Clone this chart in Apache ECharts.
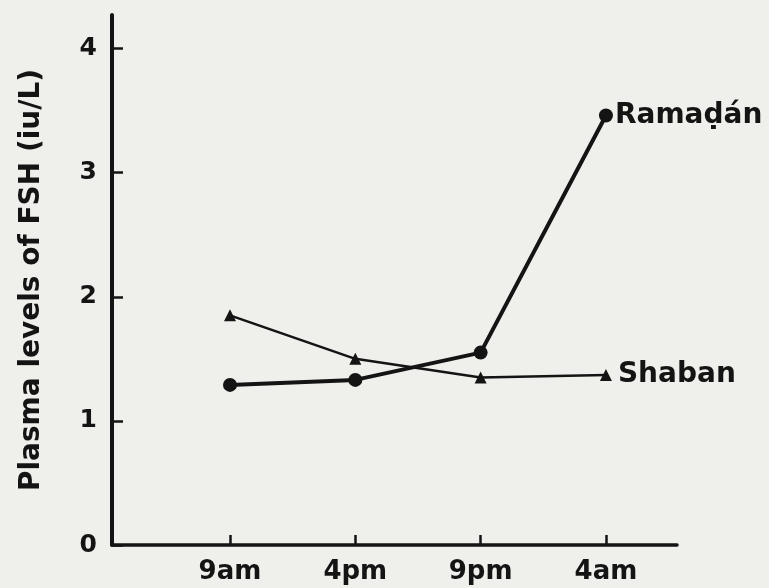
<!DOCTYPE html>
<html>
<head>
<meta charset="utf-8">
<script src="https://cdn.jsdelivr.net/npm/echarts@6/dist/echarts.min.js"></script>
<style>
html,body{margin:0;padding:0;background:#efefec;}
#c{width:769px;height:588px;}
</style>
</head>
<body>
<div id="c"></div>
<script>
// Data
var categories = ['9am', '4pm', '9pm', '4am'];
var categoryPos = [1, 2, 3, 4];
var ramadan = [1.29, 1.33, 1.55, 3.46];
var shaban = [1.85, 1.50, 1.35, 1.37];
var yTicks = [0, 1, 2, 3, 4];
var seriesNames = ['Ramaḍán', 'Shaban'];
var yTitle = 'Plasma levels of FSH (iu/L)';

var ink = '#141414';
var font = 'DejaVu Sans';

function pairs(vals) {
  return vals.map(function (v, i) { return [categoryPos[i], v]; });
}

var chart = echarts.init(document.getElementById('c'));
chart.setOption({
  backgroundColor: '#efefec',
  animation: false,
  grid: { left: 112, right: 92, top: 15, bottom: 43, containLabel: false },
  xAxis: {
    type: 'value',
    min: 0.0585,
    max: 4.567,
    axisLine: { show: true, lineStyle: { color: ink, width: 3.5 } },
    axisTick: { show: true, inside: true, length: 10, lineStyle: { color: ink, width: 2.5 }, customValues: categoryPos },
    axisLabel: {
      customValues: categoryPos,
      formatter: function (v) { return categories[categoryPos.indexOf(v)] || ''; },
      color: ink, fontFamily: font, fontWeight: 'bold', fontSize: 26, margin: 14
    },
    splitLine: { show: false }
  },
  yAxis: {
    type: 'value',
    min: 0,
    max: 4.27,
    name: yTitle,
    nameLocation: 'middle',
    nameGap: 66,
    nameRotate: 90,
    nameTextStyle: { color: ink, fontFamily: font, fontWeight: 'bold', fontSize: 28 },
    axisLine: { show: true, lineStyle: { color: ink, width: 4 } },
    axisTick: { show: true, inside: true, length: 11, lineStyle: { color: ink, width: 2.5 }, customValues: yTicks },
    axisLabel: { customValues: yTicks, color: ink, fontFamily: font, fontWeight: 'bold', fontSize: 25, margin: 15 },
    splitLine: { show: false }
  },
  series: [
    {
      name: seriesNames[0],
      type: 'line',
      data: pairs(ramadan),
      symbol: 'circle',
      symbolSize: 14,
      lineStyle: { color: ink, width: 4 },
      itemStyle: { color: ink },
      endLabel: { show: true, formatter: seriesNames[0], color: ink, fontFamily: font, fontWeight: 'bold', fontSize: 28, distance: 9 },
      z: 3
    },
    {
      name: seriesNames[1],
      type: 'line',
      data: pairs(shaban),
      symbol: 'triangle',
      symbolSize: 12,
      lineStyle: { color: ink, width: 2.5 },
      itemStyle: { color: ink },
      endLabel: { show: true, formatter: seriesNames[1], color: ink, fontFamily: font, fontWeight: 'bold', fontSize: 28, distance: 12 },
      z: 2
    }
  ]
});
</script>
</body>
</html>
